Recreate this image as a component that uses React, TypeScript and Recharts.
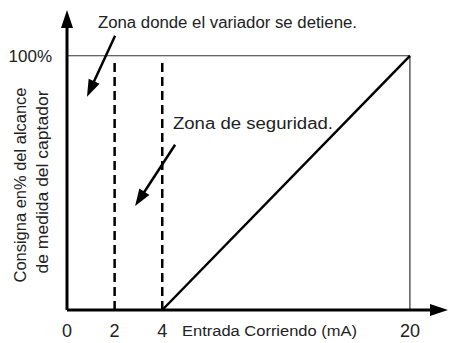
import { LineChart, Line, XAxis, YAxis, ReferenceLine, ReferenceDot } from 'recharts'

// x axis in the figure is schematic (0-4 mA stretched), so mA values map to axis positions
const tickMilliAmps = [0, 2, 4, 20]
const tickPositions = [0, 2, 4, 14.4]
const axisEnd = 16
const pctTicks = [100]
const pctTop = 118
const dashedMilliAmps = [2, 4]
const rampMilliAmps = [4, 20]
const rampPct = [0, 100]

const topNote = 'Zona donde el variador se detiene.'
const safetyNote = 'Zona de seguridad.'
const xTitle = 'Entrada Corriendo (mA)'
const yTitle = ['Consigna en% del alcance', 'de medida del captador']

const font = '"Liberation Sans", Arial, sans-serif'

const posOf = (mA: number) => tickPositions[tickMilliAmps.indexOf(mA)]
const rampData = rampMilliAmps.map((mA, i) => ({ pos: posOf(mA), pct: rampPct[i] }))

function arrow(head: number, half: number, width: number) {
  return (p: any) => {
    const { x1, y1, x2, y2 } = p
    const dx = x2 - x1, dy = y2 - y1
    const len = Math.hypot(dx, dy) || 1
    const ux = dx / len, uy = dy / len
    const bx = x2 - ux * head, by = y2 - uy * head
    const pts = `${x2},${y2} ${bx - uy * half},${by + ux * half} ${bx + uy * half},${by - ux * half}`
    return (
      <g>
        <line x1={x1} y1={y1} x2={bx + ux * 2} y2={by + uy * 2} stroke="#000" strokeWidth={width} />
        <polygon points={pts} fill="#000" />
      </g>
    )
  }
}

function note(text: string, size: number, width: number) {
  return (p: any) => (
    <text x={p.cx} y={p.cy} fontSize={size} fontFamily={font} fill="#222"
          textLength={width} lengthAdjust="spacingAndGlyphs">{text}</text>
  )
}

function XTick({ x, y, payload }: any) {
  const label = tickMilliAmps[tickPositions.indexOf(payload.value)]
  return (
    <text x={x} y={y} textAnchor="middle" fontSize={18} fontFamily={font} fill="#222">{label}</text>
  )
}

function YTick({ x, y, payload }: any) {
  return (
    <text x={x} y={y} dy="0.36em" textAnchor="end" fontSize={17} fontFamily={font} fill="#222">{payload.value}%</text>
  )
}

function YTitle({ viewBox }: any) {
  const cy = viewBox.y + viewBox.height / 2 + 25
  return (
    <g fontFamily={font} fontSize={16} fill="#222" textAnchor="middle">
      <text transform={`translate(26,${cy}) rotate(-90)`} textLength={195} lengthAdjust="spacingAndGlyphs">{yTitle[0]}</text>
      <text transform={`translate(48,${cy - 3}) rotate(-90)`} textLength={183} lengthAdjust="spacingAndGlyphs">{yTitle[1]}</text>
    </g>
  )
}

function XTitle({ viewBox }: any) {
  return (
    <text x={viewBox.x + 115} y={viewBox.y + 26} fontSize={14} fontFamily={font} fill="#222"
          textLength={175} lengthAdjust="spacingAndGlyphs">{xTitle}</text>
  )
}

export default function App() {
  return (
    <div style={{ position: 'absolute', left: 0, top: 0, background: '#fff' }}>
      <LineChart width={450} height={343} data={rampData} margin={{ top: 10, right: 2, left: 0, bottom: 0 }}>
        <XAxis dataKey="pos" type="number" domain={[0, axisEnd]} ticks={tickPositions} interval={0}
               axisLine={false} tickLine={false} tickSize={0} tickMargin={27} height={33}
               tick={<XTick />} label={<XTitle />} />
        <YAxis type="number" domain={[0, pctTop]} ticks={pctTicks} width={67}
               axisLine={false} tickLine={false} tickSize={0} tickMargin={15}
               tick={<YTick />} label={<YTitle />} />

        {/* 100% box */}
        <ReferenceLine segment={[{ x: 0, y: 100 }, { x: posOf(20), y: 100 }]} stroke="#333" strokeWidth={1.2} ifOverflow="visible" />
        <ReferenceLine segment={[{ x: posOf(20), y: 0 }, { x: posOf(20), y: 100 }]} stroke="#333" strokeWidth={1.2} ifOverflow="visible" />

        {dashedMilliAmps.map(mA => (
          <ReferenceLine key={mA} segment={[{ x: posOf(mA), y: 0 }, { x: posOf(mA), y: 99 }]}
                         stroke="#000" strokeWidth={2.5} strokeDasharray="9 5" ifOverflow="visible" />
        ))}

        <Line dataKey="pct" type="linear" stroke="#000" strokeWidth={2.5} dot={false} isAnimationActive={false} />

        {/* axes with arrow heads */}
        <ReferenceLine segment={[{ x: 0, y: 0 }, { x: axisEnd, y: 0 }]} ifOverflow="visible" shape={arrow(18, 6, 3)} />
        <ReferenceLine segment={[{ x: 0, y: 0 }, { x: 0, y: pctTop }]} ifOverflow="visible" shape={arrow(18, 6, 3)} />

        {/* annotations */}
        <ReferenceDot x={1.3} y={110.8} ifOverflow="visible" shape={note(topNote, 16, 259)} />
        <ReferenceLine segment={[{ x: 2.02, y: 107.9 }, { x: 0.84, y: 83.9 }]} ifOverflow="visible" shape={arrow(17, 6, 2.5)} />
        <ReferenceDot x={4.45} y={71.3} ifOverflow="visible" shape={note(safetyNote, 16, 160)} />
        <ReferenceLine segment={[{ x: 4.54, y: 65 }, { x: 2.86, y: 40.9 }]} ifOverflow="visible" shape={arrow(17, 6, 2.5)} />
      </LineChart>
    </div>
  )
}
